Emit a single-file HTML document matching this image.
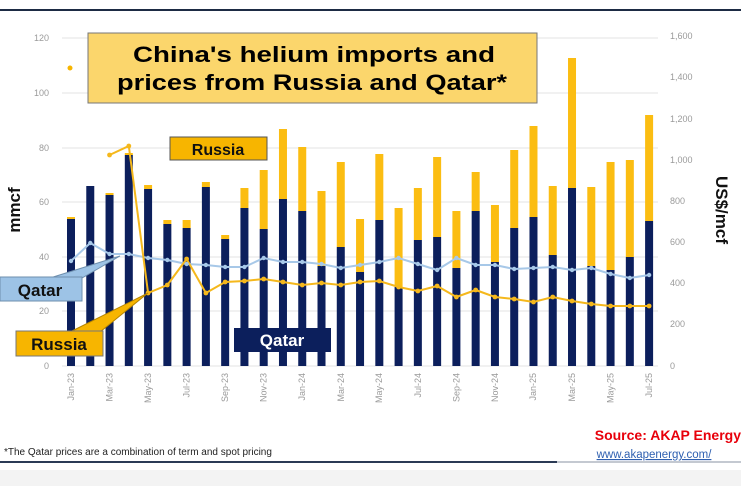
<!DOCTYPE html>
<html><head><meta charset="utf-8"><style>
body{margin:0;background:#fff;width:741px;height:486px;overflow:hidden;font-family:"Liberation Sans",sans-serif}
</style></head><body>
<svg id="s" width="741" height="486" viewBox="0 0 741 486" xmlns="http://www.w3.org/2000/svg" font-family="Liberation Sans, sans-serif">
<rect x="0" y="470" width="741" height="16" fill="#f3f3f3"/>
<line x1="0" y1="10" x2="741" y2="10" stroke="#1d2b44" stroke-width="2"/>
<line x1="0" y1="462" x2="557" y2="462" stroke="#2b3a55" stroke-width="2"/>
<line x1="557" y1="462" x2="741" y2="462" stroke="#8a93a3" stroke-width="1"/>
<g stroke="#e3e3e3" stroke-width="1">
<line x1="62" y1="38" x2="658" y2="38"/><line x1="62" y1="93" x2="658" y2="93"/><line x1="62" y1="148" x2="658" y2="148"/><line x1="62" y1="202" x2="658" y2="202"/><line x1="62" y1="257" x2="658" y2="257"/><line x1="62" y1="311" x2="658" y2="311"/><line x1="62" y1="366" x2="658" y2="366"/>
</g>
<g fill="#9a9a9a" font-size="9" text-anchor="end">
<text x="49" y="41">120</text><text x="49" y="96">100</text><text x="49" y="151">80</text><text x="49" y="205">60</text><text x="49" y="260">40</text><text x="49" y="314">20</text><text x="49" y="369">0</text>
</g>
<g fill="#9a9a9a" font-size="9">
<text x="670" y="39">1,600</text><text x="670" y="80">1,400</text><text x="670" y="122">1,200</text><text x="670" y="163">1,000</text><text x="670" y="204">800</text><text x="670" y="245">600</text><text x="670" y="286">400</text><text x="670" y="327">200</text><text x="670" y="369">0</text>
</g>
<g id="bars"></g>
<g id="lines"></g>
<g fill="#9a9a9a" font-size="9" text-anchor="end">
<text transform="translate(74,373) rotate(-90)">Jan-23</text>
<text transform="translate(112.5,373) rotate(-90)">Mar-23</text>
<text transform="translate(151,373) rotate(-90)">May-23</text>
<text transform="translate(189.6,373) rotate(-90)">Jul-23</text>
<text transform="translate(228,373) rotate(-90)">Sep-23</text>
<text transform="translate(266.7,373) rotate(-90)">Nov-23</text>
<text transform="translate(305,373) rotate(-90)">Jan-24</text>
<text transform="translate(344,373) rotate(-90)">Mar-24</text>
<text transform="translate(382,373) rotate(-90)">May-24</text>
<text transform="translate(421,373) rotate(-90)">Jul-24</text>
<text transform="translate(459.4,373) rotate(-90)">Sep-24</text>
<text transform="translate(498,373) rotate(-90)">Nov-24</text>
<text transform="translate(536,373) rotate(-90)">Jan-25</text>
<text transform="translate(575,373) rotate(-90)">Mar-25</text>
<text transform="translate(613.6,373) rotate(-90)">May-25</text>
<text transform="translate(652,373) rotate(-90)">Jul-25</text>
</g>
<text transform="translate(20,210) rotate(-90)" font-size="17" font-weight="bold" text-anchor="middle" fill="#111">mmcf</text>
<text transform="translate(716,210) rotate(90)" font-size="17" font-weight="bold" text-anchor="middle" fill="#111">US$/mcf</text>
<circle cx="70" cy="68" r="2.5" fill="#f7b500"/>
<rect x="88" y="33" width="449" height="70" fill="#fbd66c" stroke="#777" stroke-width="1"/>
<text x="133" y="62" font-size="22" font-weight="bold" fill="#000" textLength="362" lengthAdjust="spacingAndGlyphs">China's helium imports and</text>
<text x="117" y="90" font-size="22" font-weight="bold" fill="#000" textLength="390" lengthAdjust="spacingAndGlyphs">prices from Russia and Qatar*</text>
<rect x="170" y="137" width="97" height="23" fill="#f7b500" stroke="#555"/>
<text x="218" y="155" font-size="16" font-weight="bold" text-anchor="middle" fill="#111">Russia</text>
<polygon points="50,278 82,278 120,256" fill="#9dc3e6" stroke="#6e8fae"/>
<rect x="0" y="277" width="82" height="24" fill="#9dc3e6" stroke="#6e8fae"/>
<text x="40" y="296" font-size="17" font-weight="bold" text-anchor="middle" fill="#111">Qatar</text>
<polygon points="70,332 100,332 148,293" fill="#f7b500" stroke="#b58400"/>
<rect x="16" y="331" width="87" height="25" fill="#f7b500" stroke="#777"/>
<text x="59" y="350" font-size="17" font-weight="bold" text-anchor="middle" fill="#111">Russia</text>
<rect x="234" y="328" width="97" height="24" fill="#0c1f5c"/>
<text x="282" y="346" font-size="17" font-weight="bold" text-anchor="middle" fill="#fff">Qatar</text>
<text x="4" y="455" font-size="10" fill="#222">*The Qatar prices are a combination of term and spot pricing</text>
<text x="741" y="440" font-size="14" font-weight="bold" text-anchor="end" fill="#e8000b">Source: AKAP Energy</text>
<text x="654" y="458" font-size="11.5" text-anchor="middle" fill="#2e5fb0" text-decoration="underline">www.akapenergy.com/</text>
</svg>
<script>
var tot=[217,186,193,153,185,220,220,182,235,188,170,129,147,191,162,219,154,208,188,157,211,172,205,150,126,186,58,187,162,160,115];
var nav=[219,186,195,155,189,224,228,187,239,208,229,199,211,266,247,272,220,287,240,237,268,211,262,228,217,255,188,266,270,257,221];
var qp=[261,243,254,254,258,260,264,265,267,267,258,262,262,264,268,265,262,258,264,270,258,265,265,269,268,267,270,268,274,278,275];
var rp=[null,null,155,146,293,285,259,293,282,281,279,282,285,283,285,282,281,287,291,286,297,290,297,299,302,297,301,304,306,306,306];
var ns="http://www.w3.org/2000/svg",b=document.getElementById("bars"),l=document.getElementById("lines");
function el(t,a,p){var e=document.createElementNS(ns,t);for(var k in a)e.setAttribute(k,a[k]);p.appendChild(e);return e;}
function X(i){return 71+i*19.27;}
for(var i=0;i<31;i++){var x=X(i)-4;
el("rect",{x:x,y:tot[i],width:8,height:nav[i]-tot[i],fill:"#fbbd12"},b);
el("rect",{x:x,y:nav[i],width:8,height:366-nav[i],fill:"#0c1f5c"},b);}
var p1="",p2="";
for(var i=0;i<31;i++){p1+=(i?"L":"M")+X(i)+","+qp[i];if(rp[i]!=null)p2+=(p2?"L":"M")+X(i)+","+rp[i];}
el("path",{d:p1,fill:"none",stroke:"#a7c8e8","stroke-width":2},l);
el("path",{d:p2,fill:"none",stroke:"#f5b81c","stroke-width":2},l);
for(var i=0;i<31;i++){el("circle",{cx:X(i),cy:qp[i],r:2.2,fill:"#a7c8e8"},l);if(rp[i]!=null)el("circle",{cx:X(i),cy:rp[i],r:2.4,fill:"#f5b81c"},l);}
</script>
</body></html>
